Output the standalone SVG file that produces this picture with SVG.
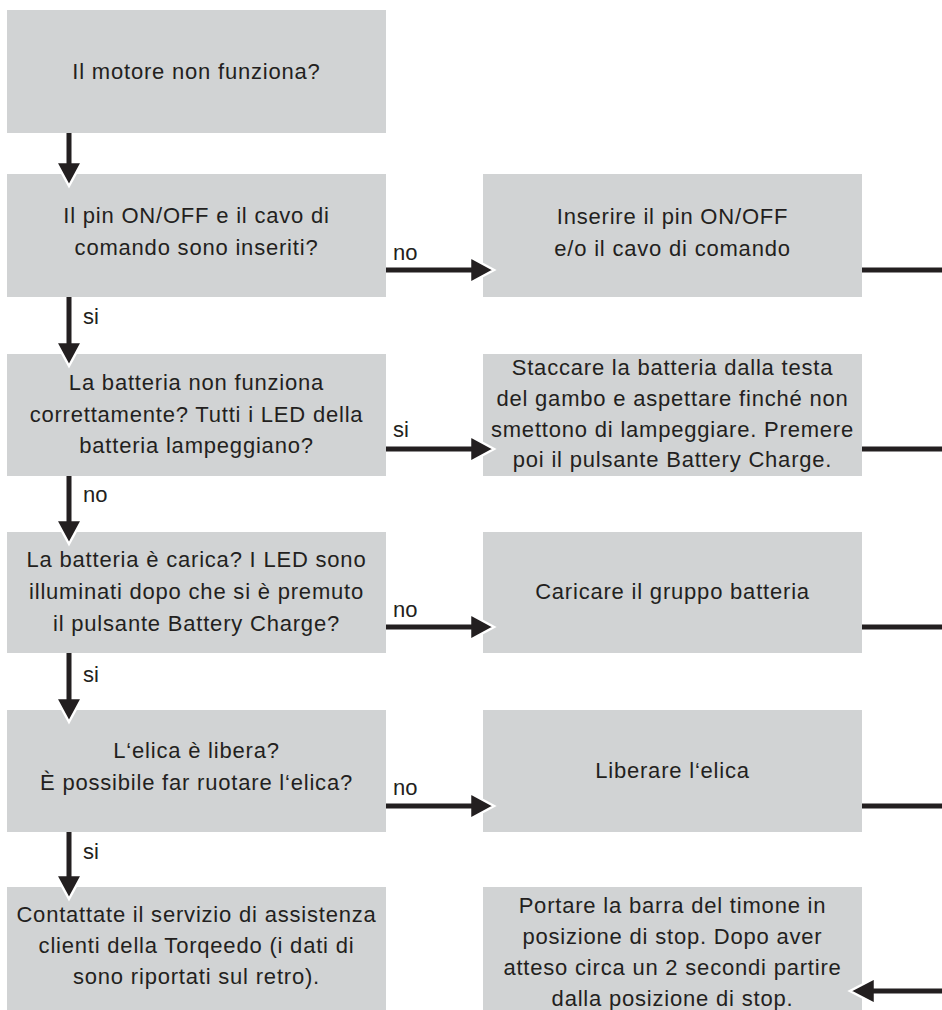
<svg xmlns="http://www.w3.org/2000/svg" width="942" height="1010" viewBox="0 0 942 1010">
<style>
.box{fill:#d1d3d4}
.t{font-family:"Liberation Sans",Arial,sans-serif;font-size:22px;letter-spacing:0.8px;fill:#231f20;text-anchor:middle}
.lbl{font-family:"Liberation Sans",Arial,sans-serif;font-size:22px;fill:#231f20}
.sh{fill:#231f20}
.hd{fill:#231f20;stroke:#fff;stroke-width:2.5;stroke-linejoin:miter}
</style>
<rect width="942" height="1010" fill="#fff"/>
<g id="n1"><rect class="box" x="7" y="10" width="379" height="123"/>
<text class="t" x="196.5" y="79">Il motore non funziona?</text></g>
<g id="n2"><rect class="box" x="7" y="174" width="379" height="123"/>
<text class="t" x="196.5" y="223">Il pin ON/OFF e il cavo di</text>
<text class="t" x="196.5" y="255">comando sono inseriti?</text></g>
<g id="n2r"><rect class="box" x="483" y="174" width="379" height="123"/>
<text class="t" x="672.5" y="224">Inserire il pin ON/OFF</text>
<text class="t" x="672.5" y="256">e/o il cavo di comando</text></g>
<g id="n3"><rect class="box" x="7" y="354" width="379" height="122"/>
<text class="t" x="196.5" y="390">La batteria non funziona</text>
<text class="t" x="196.5" y="421.5">correttamente? Tutti i LED della</text>
<text class="t" x="196.5" y="453">batteria lampeggiano?</text></g>
<g id="n3r"><rect class="box" x="483" y="354" width="379" height="122"/>
<text class="t" x="672.5" y="375">Staccare la batteria dalla testa</text>
<text class="t" x="672.5" y="406">del gambo e aspettare finché non</text>
<text class="t" x="672.5" y="437">smettono di lampeggiare. Premere</text>
<text class="t" x="672.5" y="467">poi il pulsante Battery Charge.</text></g>
<g id="n4"><rect class="box" x="7" y="532" width="379" height="121"/>
<text class="t" x="196.5" y="567">La batteria è carica? I LED sono</text>
<text class="t" x="196.5" y="599">illuminati dopo che si è premuto</text>
<text class="t" x="196.5" y="631">il pulsante Battery Charge?</text></g>
<g id="n4r"><rect class="box" x="483" y="532" width="379" height="121"/>
<text class="t" x="672.5" y="599">Caricare il gruppo batteria</text></g>
<g id="n5"><rect class="box" x="7" y="710" width="379" height="122"/>
<text class="t" x="196.5" y="758">L‘elica è libera?</text>
<text class="t" x="196.5" y="790">È possibile far ruotare l‘elica?</text></g>
<g id="n5r"><rect class="box" x="483" y="710" width="379" height="122"/>
<text class="t" x="672.5" y="778">Liberare l‘elica</text></g>
<g id="n6"><rect class="box" x="7" y="887" width="379" height="123"/>
<text class="t" x="196.5" y="922">Contattate il servizio di assistenza</text>
<text class="t" x="196.5" y="953">clienti della Torqeedo (i dati di</text>
<text class="t" x="196.5" y="984">sono riportati sul retro).</text></g>
<g id="n6r"><rect class="box" x="483" y="887" width="379" height="123"/>
<text class="t" x="672.5" y="913">Portare la barra del timone in</text>
<text class="t" x="672.5" y="944">posizione di stop. Dopo aver</text>
<text class="t" x="672.5" y="975">atteso circa un 2 secondi partire</text>
<text class="t" x="672.5" y="1006">dalla posizione di stop.</text></g>
<g id="connectors">
<polygon class="hd" points="56,162 82,162 69,186"/><rect class="sh" x="66.5" y="133" width="5" height="31"/>
<polygon class="hd" points="56,342 82,342 69,366"/><rect class="sh" x="66.5" y="297" width="5" height="47"/>
<polygon class="hd" points="56,520 82,520 69,544"/><rect class="sh" x="66.5" y="476" width="5" height="46"/>
<polygon class="hd" points="56,698 82,698 69,722"/><rect class="sh" x="66.5" y="653" width="5" height="47"/>
<polygon class="hd" points="56,875 82,875 69,899"/><rect class="sh" x="66.5" y="832" width="5" height="45"/>
<text class="lbl" x="83" y="324">si</text>
<text class="lbl" x="83" y="502">no</text>
<text class="lbl" x="83" y="682">si</text>
<text class="lbl" x="83" y="859">si</text>
<polygon class="hd" points="470,257 470,283 494,270"/><rect class="sh" x="386" y="267.5" width="86" height="5"/>
<polygon class="hd" points="470,436 470,462 494,449"/><rect class="sh" x="386" y="446.5" width="86" height="5"/>
<polygon class="hd" points="470,614 470,640 494,627"/><rect class="sh" x="386" y="624.5" width="86" height="5"/>
<polygon class="hd" points="470,793 470,819 494,806"/><rect class="sh" x="386" y="803.5" width="86" height="5"/>
<text class="lbl" x="393" y="260">no</text>
<text class="lbl" x="393" y="437">si</text>
<text class="lbl" x="393" y="617">no</text>
<text class="lbl" x="393" y="795">no</text>
<rect class="sh" x="862" y="267.5" width="80" height="5"/>
<rect class="sh" x="862" y="446.5" width="80" height="5"/>
<rect class="sh" x="862" y="624.5" width="80" height="5"/>
<rect class="sh" x="862" y="803.5" width="80" height="5"/>
<polygon class="hd" points="875,978 875,1004 850,991"/><rect class="sh" x="873" y="988.5" width="69" height="5"/>
</g>
</svg>
